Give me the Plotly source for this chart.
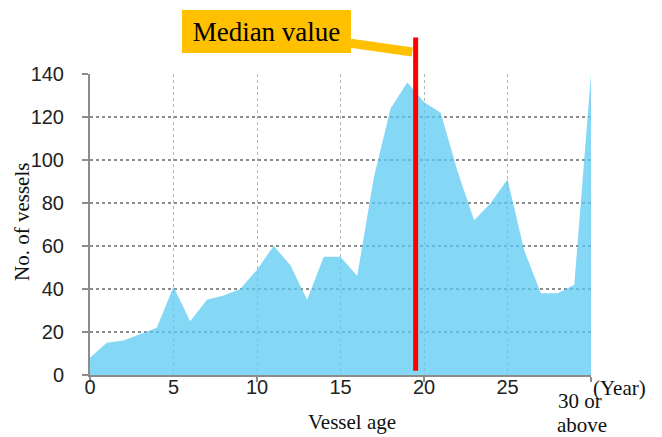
import plotly.graph_objects as go

# number of vessels by vessel age (last bucket = 30 or above)
ages = list(range(0, 31))
vessels = [8, 15, 16, 19, 22, 41, 25, 35, 37, 40,
           49, 60, 51, 35, 55, 55, 46, 92, 124, 136,
           127, 122, 95, 72, 80, 91, 58, 38, 38, 42, 140]
median_age = 19.5

x_ticks = [0, 5, 10, 15, 20, 25, 30]
x_labels = ["0", "5", "10", "15", "20", "25", ""]
y_ticks = [0, 20, 40, 60, 80, 100, 120, 140]

x_max = 30
y_max = 140

fig = go.Figure()

fig.add_trace(go.Scatter(
    x=ages, y=vessels,
    mode="lines",
    fill="tozeroy",
    fillcolor="rgba(92,202,243,0.75)",
    line=dict(width=0, color="rgba(92,202,243,0.75)"),
    hoverinfo="skip",
    showlegend=False,
))

# median marker
fig.add_shape(type="line", xref="paper", yref="paper",
              x0=median_age / x_max, x1=median_age / x_max,
              y0=2 / y_max, y1=157 / y_max,
              line=dict(color="#FF0000", width=5))

fig.add_annotation(
    text="Median value",
    xref="x", yref="paper",
    x=median_age - 0.2, y=1.073,
    ax=-146, ay=-21,
    showarrow=True, arrowhead=0, arrowwidth=9, arrowcolor="#FFC000",
    standoff=0,
    bgcolor="#FFC000", borderwidth=0, borderpad=4,
    width=161, height=35,
    font=dict(family="Liberation Serif", size=27, color="black"),
)

serif = dict(family="Liberation Serif", size=21, color="#111111")

fig.add_annotation(text="No. of vessels", xref="paper", yref="paper",
                   x=-0.136, y=0.508, xanchor="center", yanchor="middle",
                   textangle=-90, showarrow=False, font=serif)
fig.add_annotation(text="Vessel age", xref="paper", yref="paper",
                   x=0.522, y=-0.203, xanchor="center", yanchor="bottom",
                   showarrow=False, font=serif)
fig.add_annotation(text="(Year)", xref="x", yref="paper",
                   x=x_max, y=0.002, xanchor="left", yanchor="top",
                   showarrow=False, font=serif)
fig.add_annotation(text="30 or", xref="x", yref="paper",
                   x=x_max, y=-0.04, xanchor="right", yanchor="top",
                   xshift=13, showarrow=False, font=serif)
fig.add_annotation(text="above", xref="x", yref="paper",
                   x=x_max, y=-0.12, xanchor="right", yanchor="top",
                   xshift=18, showarrow=False, font=serif)

# page body adds 8px, so the figure is a bit smaller than the window
fig.update_layout(
    width=654, height=429,
    margin=dict(l=82, r=71, t=66, b=62),
    plot_bgcolor="white",
    paper_bgcolor="white",
    showlegend=False,
)

fig.update_xaxes(
    range=[0, x_max],
    tickvals=x_ticks, ticktext=x_labels,
    ticks="",
    ticklabelstandoff=-7,
    showgrid=True, gridcolor="#B4B4B4", griddash="dot", gridwidth=1,
    showline=True, linecolor="#8C8C8C", linewidth=2,
    zeroline=False,
    minor=dict(tickvals=[0, 10, 20, 30], ticks="outside", ticklen=5,
               tickcolor="#8C8C8C", tickwidth=2, showgrid=False),
    tickfont=dict(family="Liberation Sans", size=20, color="#222222"),
)

fig.update_yaxes(
    range=[0, y_max],
    tickvals=y_ticks,
    ticks="outside", ticklen=6, tickcolor="#8C8C8C", tickwidth=2,
    ticklabelstandoff=14,
    showgrid=True, gridcolor="#8C8C8C", griddash="dot", gridwidth=1.5,
    showline=True, linecolor="#8C8C8C", linewidth=2,
    zeroline=False,
    tickfont=dict(family="Liberation Sans", size=20, color="#222222"),
)

fig.write_html("out.html")
